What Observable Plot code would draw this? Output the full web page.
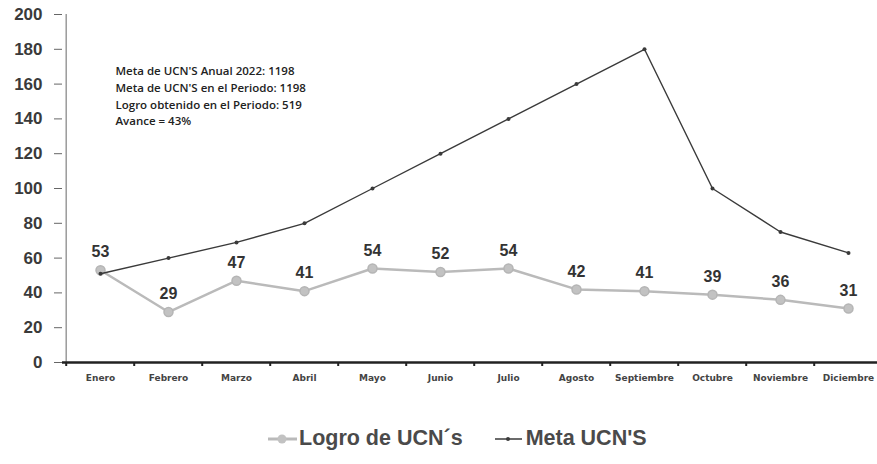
<!DOCTYPE html>
<html>
<head>
<meta charset="utf-8">
<script src="https://cdn.jsdelivr.net/npm/d3@7"></script>
<script src="https://cdn.jsdelivr.net/npm/@observablehq/plot@0.6"></script>
<style>
  html, body { margin: 0; padding: 0; background: #fff; }
  #wrap { position: relative; width: 877px; height: 464px; overflow: hidden; }
  g[aria-label="x-axis tick label"] text { font: bold 9px "DejaVu Sans", sans-serif; fill: #444; }
  g[aria-label="y-axis tick label"] text { font: bold 17px "Liberation Sans", Arial, sans-serif; fill: #3a3a3a; }
  #legend { position: absolute; left: 268px; top: 426px; display: flex; align-items: center;
            font: bold 21.5px "Liberation Sans", Arial, sans-serif; color: #4a4a4a; white-space: nowrap; }
  #legend .item { display: flex; align-items: center; }
  #legend svg { display: block; }
</style>
</head>
<body>
<div id="wrap"></div>
<script>
const months = ["Enero","Febrero","Marzo","Abril","Mayo","Junio","Julio","Agosto","Septiembre","Octubre","Noviembre","Diciembre"];
const logro = [53, 29, 47, 41, 54, 52, 54, 42, 41, 39, 36, 31];
const meta = [51, 60, 69, 80, 100, 120, 140, 160, 180, 100, 75, 63];
const yTicks = [0, 20, 40, 60, 80, 100, 120, 140, 160, 180, 200];
const notes = [
  "Meta de UCN'S Anual 2022: 1198",
  "Meta de UCN'S en el Periodo: 1198",
  "Logro obtenido en el Periodo: 519",
  "Avance = 43%"
];
const seriesNames = ["Logro de UCN´s", "Meta UCN'S"];

const logroData = months.map((m, i) => ({month: m, value: logro[i]}));
const metaData = months.map((m, i) => ({month: m, value: meta[i]}));

const xRange = [62, 885];
const step = (xRange[1] - xRange[0]) / months.length;
const gray = "#bababa";
const dark = "#3a3a3a";

const chart = Plot.plot({
  width: 877,
  height: 400,
  marginLeft: 62,
  marginRight: 0,
  marginTop: 14,
  marginBottom: 38,
  style: {background: "#fff", overflow: "visible"},
  x: {type: "band", domain: months, range: xRange, padding: 0},
  y: {domain: [0, 200], range: [362, 14]},
  marks: [
    Plot.ruleX([months[0]], {dx: -step / 2, y1: 0, y2: 200, stroke: "#9a9a9a", strokeWidth: 1.5}),
    Plot.axisY({ticks: yTicks, tickSize: 8, tickPadding: 12, stroke: "#666", fill: "#3a3a3a",
                fontSize: 17, fontWeight: "bold", label: null}),
    Plot.ruleX(months, {x: d => d, dx: -step / 2, y1: 0, y2: -2.3, stroke: "#222", strokeWidth: 2}),
    Plot.ruleY([0], {stroke: "#222", strokeWidth: 2.5}),
    Plot.axisX({tickSize: 0, tickPadding: 12, fontSize: 9, fontWeight: "bold", fill: "#444", label: null}),
    Plot.line(logroData, {x: "month", y: "value", stroke: gray, strokeWidth: 2.5}),
    Plot.dot(logroData, {x: "month", y: "value", r: 4.5, fill: "#c2c2c2", stroke: "#b5b5b5"}),
    Plot.line(metaData, {x: "month", y: "value", stroke: dark, strokeWidth: 1.4}),
    Plot.dot(metaData, {x: "month", y: "value", r: 2, fill: dark}),
    Plot.text(logroData, {x: "month", y: "value", text: d => String(d.value), dy: -18,
                          fontSize: 16, fontWeight: "bold", fill: "#333", fontFamily: "Liberation Sans, Arial, sans-serif"}),
    Plot.text([notes.join("\n")], {frameAnchor: "top-left", dx: 53, dy: 49, lineAnchor: "top", textAnchor: "start",
                                   lineHeight: 1.45, fontSize: 11.5, fontWeight: 600, fill: "#222",
                                   fontFamily: "Open Sans, sans-serif"})
  ]
});
document.getElementById("wrap").appendChild(chart);

// Legend below the chart
const legend = document.createElement("div");
legend.id = "legend";
const mk = (kind) => {
  const s = d3.create("svg").attr("width", 30).attr("height", 14);
  if (kind === 0) {
    s.append("line").attr("x1", 0).attr("x2", 29).attr("y1", 7).attr("y2", 7).attr("stroke", gray).attr("stroke-width", 3);
    s.append("circle").attr("cx", 14).attr("cy", 7).attr("r", 4.5).attr("fill", "#c2c2c2");
  } else {
    s.append("line").attr("x1", 0).attr("x2", 27).attr("y1", 7).attr("y2", 7).attr("stroke", dark).attr("stroke-width", 1.5);
    s.append("circle").attr("cx", 13).attr("cy", 7).attr("r", 2).attr("fill", dark);
  }
  return s.node();
};
seriesNames.forEach((name, i) => {
  const it = document.createElement("div");
  it.className = "item";
  if (i > 0) it.style.marginLeft = "32px";
  it.appendChild(mk(i));
  const t = document.createElement("span");
  t.textContent = name;
  t.style.marginLeft = "1px";
  it.appendChild(t);
  legend.appendChild(it);
});
document.getElementById("wrap").appendChild(legend);
</script>
</body>
</html>
